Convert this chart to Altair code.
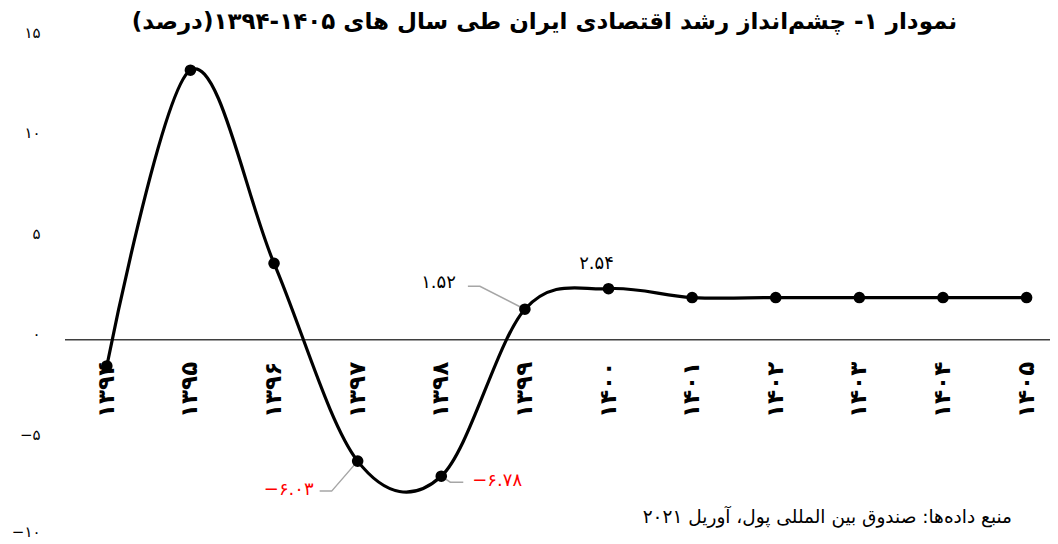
import altair as alt
import pandas as pd

# ---------------- data ----------------
years = [1394, 1395, 1396, 1397, 1398, 1399, 1400, 1401, 1402, 1403, 1404, 1405]
year_labels = ['۱۳۹۴', '۱۳۹۵', '۱۳۹۶', '۱۳۹۷', '۱۳۹۸', '۱۳۹۹',
               '۱۴۰۰', '۱۴۰۱', '۱۴۰۲', '۱۴۰۳', '۱۴۰۴', '۱۴۰۵']
growth = [-1.3, 13.4, 3.8, -6.03, -6.78, 1.52, 2.54, 2.1, 2.1, 2.1, 2.1, 2.1]

label_years = [1397, 1398, 1399, 1400]
label_values = [-6.03, -6.78, 1.52, 2.54]
label_texts = ['−۶.۰۳', '−۶.۷۸', '۱.۵۲', '۲.۵۴']
label_colors = ['#FF0000', '#FF0000', '#000000', '#000000']

y_ticks = [-10, -5, 0, 5, 10, 15]
y_tick_labels = ['−۱۰', '−۵', '۰', '۵', '۱۰', '۱۵']

title_text = '\u200fنمودار ۱- چشم‌انداز رشد اقتصادی ایران طی سال های ۱۴۰۵-۱۳۹۴(درصد)\u200f'
source_text = '\u200fمنبع داده‌ها: صندوق بین المللی پول، آوریل ۲۰۲۱\u200f'

# ---------------- layout ----------------
PLOT_W, PLOT_H = 985, 503
X_DOMAIN = [1393.5, 1405.28]
Y_DOMAIN = [-10, 15]
PX_PER_YEAR = PLOT_W / (X_DOMAIN[1] - X_DOMAIN[0])
PX_PER_UNIT = PLOT_H / (Y_DOMAIN[1] - Y_DOMAIN[0])
FONT = 'DejaVu Sans'

# label placement (pixel offsets from the point): align, dx, dy
label_style = [
    ('right', -44, 29),
    ('left', 31, 5),
    ('right', -69, -26),
    ('center', -12, -25),
]
# leader line vertices in pixel offsets from the point (end, elbow)
leader_offsets = {
    1397: [(-38, 30), (-26, 30)],
    1398: [(22, 6), (9, 6)],
    1399: [(-57, -23), (-45, -23)],
}

df = pd.DataFrame({'year': years, 'value': growth})
df_xl = pd.DataFrame({'year': years, 'label': year_labels})

rows = []
for y, v in zip(label_years, label_values):
    if y in leader_offsets:
        pts = leader_offsets[y] + [(0, 0)]
        for i, (ox, oy) in enumerate(pts):
            rows.append({'g': str(y), 'o': i,
                         'year': y + ox / PX_PER_YEAR,
                         'value': v - oy / PX_PER_UNIT})
df_lead = pd.DataFrame(rows)

label_expr = ' : '.join(
    f"datum.value == {t} ? '{l}'" for t, l in zip(y_ticks, y_tick_labels)
) + " : ''"

xs = alt.Scale(domain=X_DOMAIN, nice=False, zero=False)
ys = alt.Scale(domain=Y_DOMAIN, nice=False, zero=False)

X = alt.X('year:Q', scale=xs, axis=None, title=None)
Y = alt.Y('value:Q', scale=ys, title=None,
          axis=alt.Axis(values=y_ticks, labelExpr=label_expr, ticks=False, tickSize=0,
                        domain=False, grid=False, labelPadding=25, labelFontSize=15,
                        labelOffset={'expr': 'datum.value == -10 ? -10 : -6'},
                        labelFont=FONT, labelColor='#000000', title=None))

zero_rule = alt.Chart(pd.DataFrame({'value': [0]})).mark_rule(
    color='#3f3f3f', strokeWidth=1.5).encode(y=Y)

leaders = alt.Chart(df_lead).mark_line(color='#A6A6A6', strokeWidth=1.5).encode(
    x=X, y=Y, detail='g:N', order='o:Q')

line = alt.Chart(df).mark_line(interpolate='cardinal', color='#000000',
                               strokeWidth=3.2).encode(x=X, y=Y)
points = alt.Chart(df).mark_circle(size=135, color='#000000', opacity=1).encode(x=X, y=Y)

xlabels = alt.Chart(df_xl).mark_text(
    angle=270, align='right', baseline='middle', dx=-22,
    font=FONT, fontSize=23, fontWeight='bold', color='#000000'
).encode(x=X, y=alt.datum(0), text='label:N')

label_layers = []
for y, v, t, c, (al, dx, dy) in zip(label_years, label_values, label_texts,
                                    label_colors, label_style):
    d = pd.DataFrame({'year': [y], 'value': [v], 'label': [t]})
    label_layers.append(
        alt.Chart(d).mark_text(align=al, baseline='middle', dx=dx, dy=dy,
                               font=FONT, fontSize=18, color=c)
        .encode(x=X, y=Y, text='label:N'))

note = alt.Chart(pd.DataFrame({'t': [source_text]})).mark_text(
    align='right', baseline='middle', font=FONT, fontSize=18.5, color='#000000'
).encode(x=alt.value(947), y=alt.value(479), text='t:N')

chart = alt.layer(zero_rule, leaders, line, points, xlabels, *label_layers, note).properties(
    width=PLOT_W, height=PLOT_H,
    autosize=alt.AutoSizeParams(type='none'),
    padding={'left': 57, 'top': 30, 'right': 0, 'bottom': 8},
    title=alt.TitleParams(title_text, font=FONT, fontSize=23, fontWeight='bold',
                          anchor='middle', offset=-9, dx=-13,
                          color='#000000'),
    background='white'
).configure_view(stroke=None)

chart.save('out.html', embed_options={'renderer': 'svg', 'actions': False})
